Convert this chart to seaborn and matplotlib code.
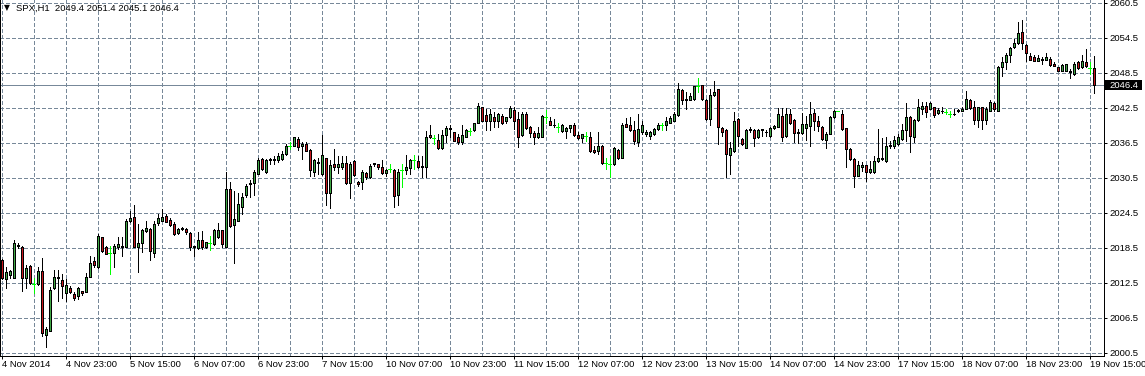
import numpy as np
import matplotlib
matplotlib.use("Agg")
import matplotlib.pyplot as plt
import seaborn as sns
from matplotlib.patches import Rectangle
from matplotlib.transforms import blended_transform_factory

# ---------------- data ----------------
symbol_title = "SPX,H1  2049.4 2051.4 2045.1 2046.4"
current_price = 2046.4

opens = [
    2016.5, 2013.2, 2013.8, 2013.4, 2019.0, 2018.6, 2013.4, 2015.4, 2012.4, 2012.3,
    2014.6, 2003.5, 2004.3, 2011.6, 2013.5, 2013.0, 2010.8, 2011.6, 2010.6, 2010.2,
    2011.1, 2011.0, 2013.6, 2016.2, 2015.3, 2020.3, 2018.6, 2017.6, 2017.6, 2018.6,
    2018.9, 2018.7, 2023.1, 2023.8, 2018.6, 2019.3, 2021.4, 2021.8, 2017.6, 2022.7,
    2023.2, 2024.0, 2023.3, 2022.6, 2021.0, 2021.7, 2021.8, 2021.0, 2018.8, 2018.5,
    2019.8, 2018.6, 2019.3, 2019.1, 2020.3, 2021.5, 2018.7, 2028.6, 2022.5, 2023.2,
    2025.6, 2027.5, 2029.4, 2029.6, 2031.2, 2033.8, 2031.5, 2033.5, 2033.6, 2033.5,
    2033.7, 2034.6, 2035.9, 2036.0, 2037.2, 2035.9, 2036.3, 2035.3, 2031.5, 2033.1,
    2031.2, 2033.9, 2027.9, 2032.9, 2032.3, 2032.4, 2033.0, 2029.6, 2033.4, 2029.8,
    2029.8, 2031.3, 2030.6, 2033.0, 2032.9, 2032.4, 2031.3, 2032.0, 2031.9, 2027.5,
    2031.8, 2031.8, 2032.2, 2033.6, 2033.4, 2032.6, 2032.4, 2037.9, 2037.4, 2037.0,
    2035.6, 2037.8, 2039.0, 2038.3, 2037.6, 2036.6, 2037.6, 2038.6, 2038.7, 2040.0,
    2042.6, 2041.3, 2040.3, 2041.0, 2040.2, 2041.2, 2040.2, 2040.9, 2042.2, 2040.6,
    2037.8, 2041.5, 2039.3, 2038.2, 2037.6, 2037.6, 2041.0, 2040.3, 2039.6, 2039.3,
    2038.6, 2038.5, 2039.0, 2039.5, 2037.9, 2037.3, 2037.7, 2037.6, 2035.3, 2035.1,
    2036.0, 2033.0, 2032.9, 2032.9, 2035.3, 2034.0, 2039.7, 2039.6, 2038.7, 2036.6,
    2038.4, 2038.0, 2037.7, 2038.0, 2038.9, 2039.6, 2039.6, 2040.0, 2040.3, 2041.3,
    2045.6, 2044.1, 2043.9, 2044.0, 2046.2, 2046.4, 2043.9, 2040.6, 2044.7, 2045.7,
    2039.05, 2038.7, 2034.4, 2035.1, 2040.6, 2037.2, 2035.7, 2038.9, 2038.7, 2037.5,
    2038.9, 2038.4, 2037.7, 2039.05, 2039.3, 2041.2, 2037.7, 2041.5, 2040.5, 2038.4,
    2038.2, 2039.05, 2039.45, 2041.6, 2040.3, 2039.3, 2037.0, 2038.1, 2040.9, 2042.05,
    2041.4, 2039.0, 2035.4, 2033.8, 2030.9, 2032.4, 2032.7, 2031.5, 2031.6, 2033.4,
    2034.0, 2033.4, 2035.9, 2035.9, 2036.4, 2037.1, 2038.7, 2040.9, 2037.5, 2040.5,
    2042.3, 2042.8, 2042.4, 2042.6, 2041.6, 2042.0, 2041.8, 2041.55, 2041.4, 2041.9,
    2042.0, 2042.4, 2043.8, 2042.6, 2040.4, 2042.6, 2040.4, 2042.0, 2043.3, 2042.0,
    2049.6, 2050.3, 2051.6, 2053.0, 2053.6, 2055.5, 2053.3, 2051.35, 2051.2, 2050.6,
    2050.9, 2050.8, 2050.9, 2050.1, 2049.5, 2048.9, 2048.9, 2048.9, 2048.3, 2050.3,
    2049.5, 2050.3, 2049.4, 2049.4,
]

highs = [
    2016.6, 2015.2, 2014.8, 2019.9, 2019.4, 2018.8, 2015.5, 2015.5, 2013.4, 2015.3,
    2016.7, 2005.0, 2011.8, 2014.8, 2014.8, 2014.0, 2013.2, 2011.9, 2010.9, 2011.8,
    2011.2, 2014.2, 2017.1, 2016.9, 2020.9, 2020.4, 2018.8, 2018.8, 2019.2, 2020.3,
    2020.3, 2023.5, 2024.8, 2025.9, 2022.6, 2021.8, 2023.2, 2021.9, 2023.2, 2024.4,
    2025.2, 2024.3, 2023.7, 2022.9, 2022.0, 2022.1, 2022.0, 2021.2, 2018.9, 2021.2,
    2021.4, 2019.6, 2020.6, 2021.7, 2022.7, 2021.6, 2031.5, 2029.8, 2028.3, 2028.0,
    2028.0, 2029.4, 2030.1, 2031.8, 2034.0, 2033.9, 2033.8, 2034.0, 2034.3, 2034.7,
    2035.1, 2036.4, 2036.7, 2037.6, 2037.6, 2036.7, 2036.6, 2035.5, 2033.8, 2034.0,
    2037.9, 2034.0, 2033.6, 2035.5, 2034.3, 2034.3, 2034.3, 2033.2, 2033.5, 2029.9,
    2031.9, 2031.6, 2032.9, 2033.1, 2032.9, 2033.5, 2032.0, 2032.9, 2032.0, 2032.0,
    2032.9, 2034.4, 2033.8, 2034.4, 2034.3, 2034.3, 2038.5, 2039.6, 2037.9, 2038.0,
    2038.7, 2039.4, 2039.6, 2038.4, 2038.0, 2039.5, 2038.9, 2039.0, 2040.0, 2043.4,
    2042.7, 2042.3, 2042.3, 2041.8, 2041.6, 2041.4, 2041.0, 2042.8, 2042.6, 2041.8,
    2041.8, 2041.8, 2039.4, 2038.5, 2039.2, 2041.3, 2042.2, 2041.0, 2040.6, 2039.9,
    2039.7, 2039.3, 2039.6, 2040.0, 2038.3, 2038.1, 2038.4, 2038.3, 2036.0, 2038.4,
    2036.2, 2034.0, 2034.3, 2035.8, 2035.4, 2040.0, 2040.8, 2040.9, 2040.3, 2041.5,
    2040.3, 2038.7, 2038.6, 2039.05, 2040.0, 2040.0, 2040.9, 2041.2, 2041.8, 2046.8,
    2045.8, 2045.2, 2045.0, 2046.3, 2047.7, 2046.5, 2044.05, 2045.8, 2047.1, 2045.8,
    2039.2, 2038.9, 2036.6, 2041.75, 2040.7, 2037.3, 2038.9, 2039.2, 2038.9, 2038.9,
    2038.9, 2038.7, 2039.2, 2039.6, 2042.5, 2042.5, 2042.5, 2042.3, 2040.6, 2038.9,
    2041.6, 2041.2, 2043.6, 2042.3, 2041.2, 2039.45, 2038.3, 2041.2, 2042.1, 2042.05,
    2042.1, 2039.1, 2035.7, 2034.0, 2033.4, 2033.2, 2032.8, 2033.4, 2034.3, 2038.9,
    2037.4, 2037.5, 2036.8, 2037.7, 2038.0, 2039.7, 2043.3, 2041.2, 2040.6, 2044.0,
    2043.6, 2043.6, 2043.5, 2042.75, 2042.5, 2042.7, 2042.4, 2042.0, 2042.3, 2042.3,
    2042.6, 2045.4, 2044.0, 2043.7, 2042.7, 2042.7, 2042.6, 2043.8, 2043.5, 2049.7,
    2051.2, 2051.9, 2053.0, 2054.3, 2057.2, 2057.5, 2053.5, 2052.0, 2051.5, 2051.5,
    2051.2, 2051.9, 2051.2, 2050.3, 2049.6, 2050.1, 2050.1, 2049.2, 2050.3, 2050.5,
    2051.5, 2052.6, 2050.3, 2051.4,
]

lows = [
    2013.2, 2011.6, 2013.4, 2013.3, 2018.5, 2011.2, 2011.6, 2012.3, 2010.7, 2012.2,
    2003.4, 2001.6, 2004.2, 2011.4, 2009.4, 2009.9, 2009.4, 2010.7, 2009.5, 2009.8,
    2010.5, 2010.9, 2013.5, 2015.3, 2015.1, 2017.8, 2017.4, 2014.0, 2015.3, 2018.4,
    2017.2, 2018.6, 2022.9, 2018.6, 2014.3, 2017.8, 2021.2, 2016.4, 2017.0, 2022.5,
    2023.1, 2022.9, 2022.3, 2020.8, 2020.9, 2021.5, 2020.9, 2018.2, 2017.2, 2018.3,
    2018.3, 2018.5, 2018.1, 2019.0, 2020.2, 2018.7, 2018.6, 2022.1, 2015.9, 2023.1,
    2024.4, 2027.3, 2027.3, 2027.6, 2031.1, 2031.8, 2031.4, 2032.9, 2032.9, 2033.2,
    2033.6, 2034.5, 2035.5, 2035.9, 2035.3, 2033.8, 2035.1, 2030.9, 2030.9, 2031.2,
    2031.0, 2025.8, 2025.3, 2031.9, 2031.3, 2032.0, 2029.5, 2027.0, 2030.9, 2029.2,
    2028.6, 2030.4, 2030.5, 2032.6, 2032.0, 2031.2, 2030.9, 2031.6, 2025.5, 2025.9,
    2028.9, 2031.2, 2031.2, 2032.0, 2032.2, 2030.6, 2030.7, 2037.3, 2036.3, 2035.5,
    2035.5, 2036.7, 2037.6, 2036.8, 2036.4, 2036.4, 2037.5, 2037.8, 2038.6, 2039.9,
    2040.2, 2038.8, 2038.8, 2039.3, 2039.3, 2039.8, 2039.9, 2040.8, 2038.9, 2035.8,
    2037.7, 2038.9, 2037.5, 2036.4, 2037.4, 2037.5, 2039.9, 2039.5, 2039.3, 2038.3,
    2038.3, 2037.4, 2038.3, 2037.7, 2037.2, 2036.6, 2036.9, 2034.9, 2034.8, 2034.6,
    2032.9, 2032.0, 2030.7, 2032.8, 2033.7, 2033.9, 2039.2, 2038.6, 2036.4, 2036.0,
    2038.0, 2037.7, 2037.2, 2037.8, 2038.7, 2038.7, 2038.7, 2039.9, 2040.2, 2041.2,
    2043.2, 2042.3, 2043.8, 2043.9, 2045.2, 2043.9, 2040.5, 2039.5, 2044.6, 2036.3,
    2037.7, 2030.7, 2031.2, 2035.0, 2036.0, 2036.2, 2035.6, 2038.3, 2036.0, 2037.4,
    2037.7, 2037.7, 2037.6, 2038.9, 2039.2, 2036.9, 2037.6, 2039.7, 2036.6, 2036.5,
    2038.0, 2037.0, 2036.0, 2038.7, 2038.6, 2037.0, 2035.7, 2038.0, 2040.8, 2042.05,
    2038.7, 2032.3, 2033.6, 2028.9, 2030.8, 2031.7, 2029.9, 2031.4, 2031.4, 2033.3,
    2033.6, 2033.3, 2035.7, 2035.7, 2036.2, 2037.0, 2036.9, 2035.0, 2036.6, 2040.3,
    2041.4, 2041.0, 2042.3, 2041.0, 2041.4, 2041.7, 2041.4, 2041.0, 2041.3, 2041.8,
    2041.9, 2042.3, 2042.3, 2039.7, 2039.3, 2038.9, 2039.7, 2041.9, 2042.0, 2041.9,
    2048.0, 2049.2, 2050.3, 2052.8, 2053.5, 2052.6, 2050.6, 2050.7, 2050.5, 2050.5,
    2050.0, 2050.7, 2049.7, 2049.7, 2048.8, 2048.8, 2048.8, 2047.7, 2048.2, 2049.2,
    2049.3, 2049.6, 2048.4, 2045.1,
]

closes = [
    2013.3, 2014.3, 2014.6, 2019.4, 2018.8, 2013.4, 2015.1, 2012.5, 2012.4, 2014.5,
    2003.9, 2004.6, 2011.3, 2013.5, 2013.3, 2012.0, 2012.1, 2010.9, 2009.9, 2011.6,
    2010.7, 2013.6, 2016.0, 2015.5, 2020.5, 2017.9, 2017.5, 2017.6, 2018.8, 2019.2,
    2018.7, 2023.2, 2023.6, 2018.7, 2019.3, 2021.6, 2022.0, 2017.9, 2022.6, 2023.6,
    2023.8, 2023.0, 2022.5, 2020.9, 2021.7, 2022.0, 2021.2, 2018.6, 2018.6, 2019.9,
    2018.6, 2019.5, 2019.3, 2021.6, 2021.5, 2019.1, 2028.6, 2022.2, 2023.5, 2026.0,
    2027.2, 2029.2, 2029.7, 2031.5, 2033.6, 2032.0, 2033.6, 2033.7, 2033.8, 2034.2,
    2034.6, 2035.9, 2035.9, 2037.5, 2035.8, 2036.4, 2035.2, 2031.9, 2033.6, 2033.3,
    2034.4, 2027.9, 2032.8, 2032.4, 2032.9, 2033.1, 2029.6, 2032.9, 2031.0, 2029.4,
    2031.5, 2030.6, 2032.6, 2032.9, 2032.4, 2031.4, 2031.9, 2032.0, 2027.4, 2031.5,
    2031.8, 2032.3, 2033.6, 2033.6, 2032.4, 2032.4, 2037.5, 2037.5, 2037.4, 2035.6,
    2037.8, 2039.1, 2038.9, 2036.9, 2036.6, 2037.9, 2038.7, 2038.6, 2039.9, 2042.8,
    2040.3, 2040.3, 2041.4, 2040.2, 2041.5, 2039.9, 2040.9, 2042.5, 2040.3, 2037.6,
    2041.4, 2039.1, 2038.2, 2037.6, 2038.2, 2041.2, 2041.0, 2039.6, 2039.5, 2039.3,
    2039.5, 2039.05, 2039.5, 2037.8, 2037.3, 2038.0, 2037.7, 2035.1, 2034.9, 2036.0,
    2033.0, 2033.0, 2032.9, 2035.6, 2033.9, 2039.6, 2039.3, 2038.7, 2036.9, 2038.9,
    2039.5, 2038.4, 2038.3, 2038.9, 2039.6, 2039.6, 2040.2, 2040.7, 2041.5, 2045.8,
    2043.9, 2043.9, 2044.5, 2046.2, 2046.2, 2044.0, 2040.6, 2044.7, 2045.3, 2039.2,
    2038.3, 2034.6, 2035.6, 2040.3, 2037.7, 2036.3, 2038.7, 2038.7, 2037.4, 2038.7,
    2038.7, 2038.3, 2039.05, 2039.45, 2041.5, 2037.6, 2041.5, 2040.0, 2038.2, 2038.2,
    2039.7, 2039.7, 2041.5, 2040.2, 2039.45, 2037.2, 2038.1, 2040.9, 2041.9, 2042.05,
    2038.9, 2035.4, 2033.7, 2030.8, 2032.7, 2032.8, 2031.5, 2032.0, 2033.4, 2034.0,
    2033.8, 2035.9, 2036.1, 2037.0, 2037.6, 2038.7, 2041.0, 2037.7, 2040.5, 2042.6,
    2042.8, 2041.8, 2043.3, 2041.3, 2042.1, 2041.9, 2041.8, 2041.55, 2041.5, 2042.1,
    2042.4, 2044.0, 2042.5, 2040.4, 2042.6, 2040.4, 2042.3, 2043.6, 2042.3, 2049.6,
    2050.3, 2051.6, 2052.8, 2053.6, 2055.4, 2053.6, 2051.9, 2050.8, 2050.6, 2051.1,
    2050.8, 2051.3, 2049.9, 2049.7, 2048.9, 2049.9, 2050.0, 2048.7, 2050.0, 2049.3,
    2050.5, 2049.7, 2049.4, 2046.4,
]

x_tick_bars = list(range(0, 273, 16))
x_tick_labels = [
    "4 Nov 2014", "4 Nov 23:00", "5 Nov 15:00", "6 Nov 07:00", "6 Nov 23:00",
    "7 Nov 15:00", "10 Nov 07:00", "10 Nov 23:00", "11 Nov 15:00", "12 Nov 07:00",
    "12 Nov 23:00", "13 Nov 15:00", "14 Nov 07:00", "14 Nov 23:00", "17 Nov 15:00",
    "18 Nov 07:00", "18 Nov 23:00", "19 Nov 15:00",
]
y_tick_values = [2000.5, 2006.5, 2012.5, 2018.5, 2024.5, 2030.5, 2036.5,
                 2042.5, 2048.5, 2054.5, 2060.5]

# ---------------- style ----------------
sns.set_theme(style="white")
plt.rcParams['font.family'] = ['Liberation Sans', 'DejaVu Sans']
plt.rcParams['lines.scale_dashes'] = False

BULL = "#3fa845"
BEAR = "#c8171e"
DOJI = "#00ff00"
GRID = "#778899"
FS = 6.8
LW = 0.72  # one pixel at 100 dpi

W, H = 1145, 376
fig = plt.figure(figsize=(W / 100, H / 100), dpi=100, facecolor="white")
ax = fig.add_axes([0 / W, 20 / H, 1104 / W, 356 / H])
ax.set_facecolor("white")

o = np.array(opens); h = np.array(highs); l = np.array(lows); c = np.array(closes)
x = np.arange(len(o))
up = c > o
dn = c < o
dj = c == o

# wicks
ax.vlines(x[~dj], l[~dj], h[~dj], color="black", lw=LW, zorder=3, antialiased=False)
# bodies (3 px: outline | fill | outline)
ax.bar(x[up], (c - o)[up], bottom=o[up], width=0.5, color=BULL,
       edgecolor="black", linewidth=LW, zorder=4, antialiased=False)
ax.bar(x[dn], (o - c)[dn], bottom=c[dn], width=0.5, color=BEAR,
       edgecolor="black", linewidth=LW, zorder=4, antialiased=False)
# doji
ax.vlines(x[dj], l[dj], h[dj], color=DOJI, lw=LW, zorder=4, antialiased=False)
ax.hlines(c[dj], x[dj] - 0.3, x[dj] + 0.3, color=DOJI, lw=LW, zorder=4, antialiased=False)

# current price line
ax.axhline(current_price, color=GRID, lw=LW, zorder=2, antialiased=False)

# limits
ax.set_xlim(-0.375, 275.625)
ax.set_ylim(1999.98, 2061.01)

# ticks and grid
ax.set_xticks(x_tick_bars)
ax.set_xticklabels(x_tick_labels, ha="left", fontsize=FS, color="black")
ax.set_xticks(list(range(8, 273, 16)), minor=True)
ax.yaxis.tick_right()
ax.set_yticks(y_tick_values)
ax.set_yticklabels([f"{v:.1f}" for v in y_tick_values], fontsize=FS, color="black")
grid_kw = dict(color=GRID, lw=LW, linestyle=(0, (2.6, 1.7)), zorder=1, antialiased=False)
ax.grid(True, axis="x", which="both", **grid_kw)
ax.grid(True, axis="y", which="major", **grid_kw)

ax.tick_params(axis="x", which="major", direction="out", length=2.2, width=LW,
               pad=1.0, colors="black", bottom=True)
ax.tick_params(axis="x", which="minor", length=0)
ax.tick_params(axis="y", which="major", direction="out", length=2.2, width=LW,
               pad=1.5, colors="black", right=True, left=False)

for s in ["left", "right", "bottom"]:
    ax.spines[s].set_visible(True)
    ax.spines[s].set_color("black")
    ax.spines[s].set_linewidth(LW)
ax.spines["top"].set_visible(False)

# current price tag
tr = blended_transform_factory(ax.transAxes, ax.transData)
ax.add_patch(Rectangle((1.0, current_price - 0.9), 38 / 1104, 1.8, transform=tr,
                       facecolor="black", edgecolor="none", clip_on=False, zorder=6))
ax.text(1.0 + 5 / 1104, current_price, f"{current_price:.1f}", transform=tr,
        color="white", fontsize=FS, ha="left", va="center", zorder=7, clip_on=False)

# title
fig.text(4 / W, 1 - 8 / H, "▼", fontsize=5.5, family=["DejaVu Sans"], color="black",
         ha="left", va="center")
fig.text(16 / W, 1 - 8 / H, symbol_title, fontsize=FS, color="black",
         ha="left", va="center")

fig.savefig("out.png", dpi=100, facecolor="white")
